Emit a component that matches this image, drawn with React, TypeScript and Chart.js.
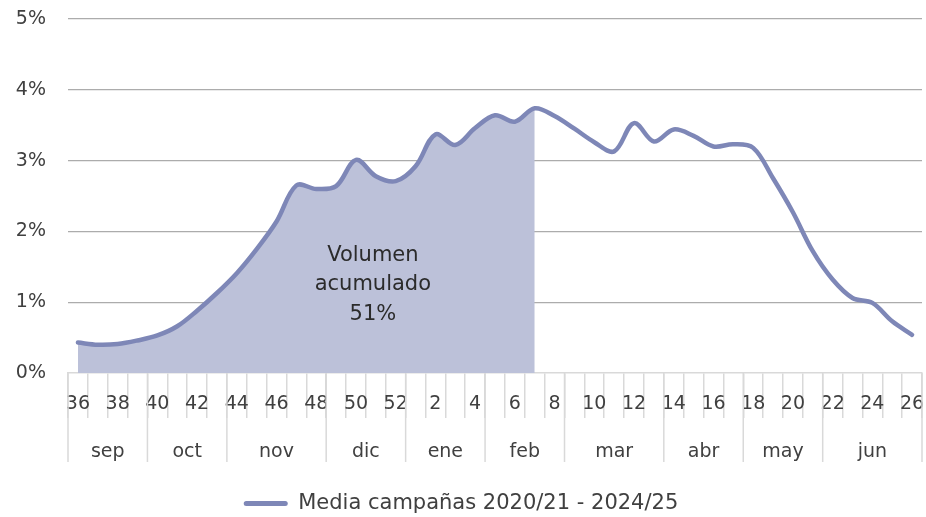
import React, { useEffect, useRef } from "react";
import { Chart, registerables } from "chart.js";

Chart.register(...registerables);

// ---- Data ----
const weekLabels = [
  "36", "37", "38", "39", "40", "41", "42", "43", "44", "45", "46", "47", "48", "49", "50", "51", "52",
  "1", "2", "3", "4", "5", "6", "7", "8", "9", "10", "11", "12", "13", "14", "15", "16", "17", "18",
  "19", "20", "21", "22", "23", "24", "25", "26",
];

const mediaValues = [
  0.43, 0.40, 0.41, 0.46, 0.53, 0.66, 0.88, 1.13, 1.41, 1.75, 2.14, 2.65, 2.60, 2.64, 3.01, 2.78, 2.71,
  2.92, 3.37, 3.22, 3.46, 3.64, 3.55, 3.74, 3.63, 3.45, 3.26, 3.13, 3.53, 3.27, 3.44, 3.35, 3.20, 3.23,
  3.18, 2.75, 2.27, 1.72, 1.32, 1.06, 0.99, 0.73, 0.54,
];

const filledUntilWeek = "7";

const monthNames = ["sep", "oct", "nov", "dic", "ene", "feb", "mar", "abr", "may", "jun"];
const monthWeekCounts = [4, 4, 5, 4, 4, 4, 5, 4, 4, 5];

const yMin = 0;
const yMax = 5;
const yStep = 1;

const annotationLines = ["Volumen", "acumulado", "51%"];
const annotationAt = { index: 14.85, value: 1.245 };

const legendLabel = "Media campañas 2020/21 - 2024/25";

// ---- Styles ----
const FONT = "'DejaVu Sans', sans-serif";
const TEXT = "#404040";
const LINE = "#7e87b7";
const FILL = "#bcc1d9";
const GRID = "#acacac";
const LIGHT = "#d9d9d9";

export default function App() {
  const canvasRef = useRef<HTMLCanvasElement | null>(null);

  useEffect(() => {
    document.body.style.margin = "0";
    const canvas = canvasRef.current;
    if (!canvas) return;

    const fillIdx = weekLabels.indexOf(filledUntilWeek);
    const fillData = mediaValues.map((v, i) => (i <= fillIdx ? v : null));

    const monthsPlugin = {
      id: "monthRow",
      afterDraw(chart: any) {
        const x = chart.scales.x;
        const ctx = chart.ctx;
        const top = x.top;
        const bottom = top + 89;
        ctx.save();
        ctx.strokeStyle = LIGHT;
        ctx.lineWidth = 1.5;
        ctx.fillStyle = TEXT;
        ctx.font = `19px ${FONT}`;
        ctx.textAlign = "center";
        ctx.textBaseline = "alphabetic";
        let start = 0;
        monthNames.forEach((name, m) => {
          const n = monthWeekCounts[m];
          const left = x.getPixelForValue(start - 0.5);
          const right = x.getPixelForValue(start + n - 0.5);
          ctx.beginPath();
          if (m === 0) {
            ctx.moveTo(left, top);
            ctx.lineTo(left, bottom);
          }
          ctx.moveTo(right, top);
          ctx.lineTo(right, bottom);
          ctx.stroke();
          ctx.fillText(name, (left + right) / 2, top + 84);
          start += n;
        });
        ctx.restore();
      },
    };

    const annotationPlugin = {
      id: "volumeNote",
      afterDatasetsDraw(chart: any) {
        const ctx = chart.ctx;
        const cx = chart.scales.x.getPixelForValue(annotationAt.index);
        const cy = chart.scales.y.getPixelForValue(annotationAt.value);
        ctx.save();
        ctx.fillStyle = "#2b2b2b";
        ctx.font = `21px ${FONT}`;
        ctx.textAlign = "center";
        ctx.textBaseline = "middle";
        annotationLines.forEach((t, i) => {
          ctx.fillText(t, cx, cy + (i - 1) * 29.5);
        });
        ctx.restore();
      },
    };

    const chart = new Chart(canvas, {
      type: "line",
      data: {
        labels: weekLabels,
        datasets: [
          {
            label: legendLabel,
            data: mediaValues,
            borderColor: LINE,
            backgroundColor: LINE,
            borderWidth: 4.5,
            pointRadius: 0,
            tension: 0.35,
            fill: false,
            borderCapStyle: "round",
            borderJoinStyle: "round",
          },
          {
            label: "acumulado",
            data: fillData,
            borderColor: "rgba(0,0,0,0)",
            backgroundColor: FILL,
            borderWidth: 0,
            pointRadius: 0,
            tension: 0.35,
            fill: "origin",
          },
        ],
      },
      options: {
        responsive: false,
        animation: false,
        events: [],
        layout: { padding: { top: 19, right: 4, left: 0, bottom: -7 } },
        plugins: {
          tooltip: { enabled: false },
          legend: {
            position: "bottom",
            labels: {
              boxWidth: 44,
              boxHeight: 5,
              padding: 2,
              color: TEXT,
              font: { family: FONT, size: 21 },
              useBorderRadius: true,
              borderRadius: 2.5,
              generateLabels: (c: any) =>
                Chart.defaults.plugins.legend.labels
                  .generateLabels(c)
                  .filter((l: any) => l.datasetIndex === 0)
                  .map((l: any) => ({ ...l, lineWidth: 0, fillStyle: LINE, strokeStyle: LINE })),
            },
          },
        },
        scales: {
          x: {
            offset: true,
            grid: {
              offset: true,
              drawOnChartArea: false,
              drawTicks: true,
              tickLength: 45,
              color: LIGHT,
              lineWidth: 1.5,
            },
            border: { color: LIGHT, width: 1.5 },
            ticks: {
              autoSkip: false,
              maxRotation: 0,
              minRotation: 0,
              padding: -25,
              color: TEXT,
              font: { family: FONT, size: 19 },
              callback: (_v: any, i: number) => (i % 2 === 0 ? weekLabels[i] : ""),
            },
            afterFit: (s: any) => {
              s.height = 118;
              s.paddingLeft = 0;
              s.paddingRight = 0;
            },
          },
          y: {
            min: yMin,
            max: yMax,
            ticks: {
              stepSize: yStep,
              padding: 22,
              color: TEXT,
              font: { family: FONT, size: 19 },
              callback: (v: any) => `${v}%`,
            },
            grid: {
              drawTicks: false,
              lineWidth: 1.3,
              color: (ctx: any) => (ctx.tick && ctx.tick.value === 0 ? "rgba(0,0,0,0)" : GRID),
            },
            border: { display: false },
            afterFit: (s: any) => {
              s.width = 68;
              s.paddingTop = 0;
              s.paddingBottom = 0;
            },
          },
        },
      },
      plugins: [monthsPlugin, annotationPlugin],
    } as any);

    return () => chart.destroy();
  }, []);

  return <canvas ref={canvasRef} width={926} height={517} style={{ display: "block" }} />;
}
